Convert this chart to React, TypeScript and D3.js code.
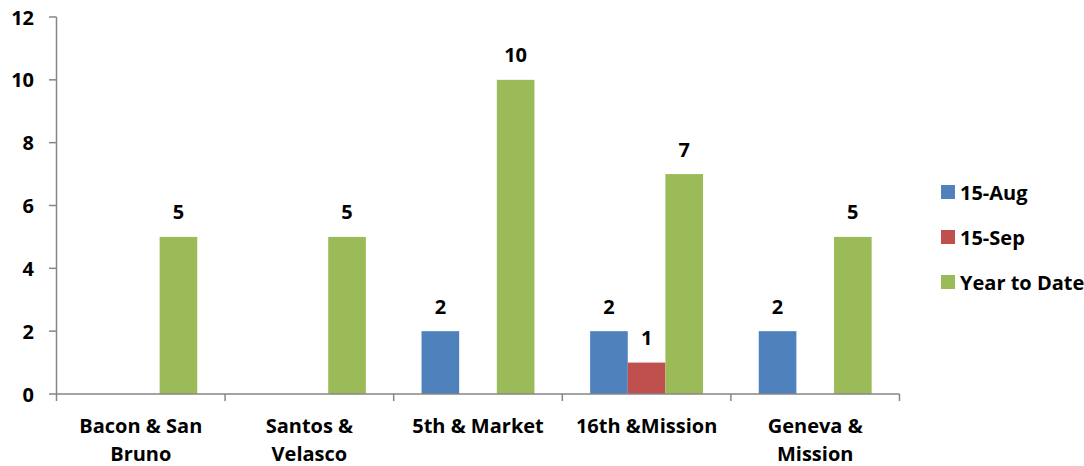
import React from "react";
import * as d3 from "d3";

const categories = [["Bacon & San", "Bruno"], ["Santos &", "Velasco"], ["5th & Market"], ["16th &Mission"], ["Geneva &", "Mission"]];
const categoryKeys = ["Bacon & San Bruno", "Santos & Velasco", "5th & Market", "16th &Mission", "Geneva & Mission"];
const seriesNames = ["15-Aug", "15-Sep", "Year to Date"];
const aug: (number | null)[] = [null, null, 2, 2, 2];
const sep: (number | null)[] = [null, null, null, 1, null];
const ytd: (number | null)[] = [5, 5, 10, 7, 5];
const yTicks = [0, 2, 4, 6, 8, 10, 12];
const colors = ["#4F81BD", "#C0504D", "#9BBB59"];

const W = 1084, H = 466;
const FONT = "'Open Sans', Lato, sans-serif";
const FS = 20;

export default function App() {
  const values = [aug, sep, ytd];
  const x0 = d3.scaleBand<string>().domain(categoryKeys).range([56.5, 899.5]).paddingInner(0).paddingOuter(0);
  const x1 = d3.scaleBand<string>().domain(seriesNames).range([0, x0.bandwidth()]).paddingInner(0).paddingOuter(0.74);
  const y = d3.scaleLinear().domain([0, 12]).range([394, 17]);
  const axisColor = "#868686";
  return (
    <svg width={W} height={H} style={{ position: "absolute", left: 0, top: 0 }} fontFamily={FONT} fontWeight="bold">
      {/* y axis */}
      <line x1={56.5} x2={56.5} y1={y(12)} y2={y(0)} stroke={axisColor} strokeWidth={1.5} />
      {yTicks.map((t) => (
        <g key={t}>
          <line x1={49} x2={56.5} y1={y(t)} y2={y(t)} stroke={axisColor} strokeWidth={1.5} />
          <text x={34} y={y(t)} textAnchor="end" dominantBaseline="central" fontSize={FS} fill="#000">{t}</text>
        </g>
      ))}
      {/* bars */}
      {categoryKeys.map((c, ci) => (
        <g key={c} transform={`translate(${x0(c)},0)`}>
          {seriesNames.map((s, si) => {
            const v = values[si][ci];
            if (v == null) return null;
            return (
              <g key={s}>
                <rect x={x1(s)} y={y(v)} width={x1.bandwidth()} height={y(0) - y(v)} fill={colors[si]} />
                <text x={(x1(s) as number) + x1.bandwidth() / 2} y={y(v) - 25} textAnchor="middle" dominantBaseline="central" fontSize={FS} fill="#000">{v}</text>
              </g>
            );
          })}
        </g>
      ))}
      {/* x axis */}
      <line x1={56.5} x2={899.5} y1={y(0)} y2={y(0)} stroke={axisColor} strokeWidth={1.5} />
      {[...categoryKeys.map((c) => x0(c) as number), 899.5].map((xv, i) => (
        <line key={i} x1={xv} x2={xv} y1={y(0)} y2={y(0) + 7} stroke={axisColor} strokeWidth={1.5} />
      ))}
      {categoryKeys.map((c, ci) => (
        <text key={c} x={(x0(c) as number) + x0.bandwidth() / 2} y={425} textAnchor="middle" fontSize={FS} fill="#000">
          {categories[ci].map((line, li) => (
            <tspan key={li} x={(x0(c) as number) + x0.bandwidth() / 2} dy={li === 0 ? 0 : 28} dominantBaseline="central">{line}</tspan>
          ))}
        </text>
      ))}
      {/* legend */}
      {seriesNames.map((s, si) => (
        <g key={s} transform={`translate(941,${192 + si * 45})`}>
          <rect x={0} y={-7} width={14} height={14} fill={colors[si]} />
          <text x={19} y={0} dominantBaseline="central" fontSize={FS} fill="#000">{s}</text>
        </g>
      ))}
    </svg>
  );
}
